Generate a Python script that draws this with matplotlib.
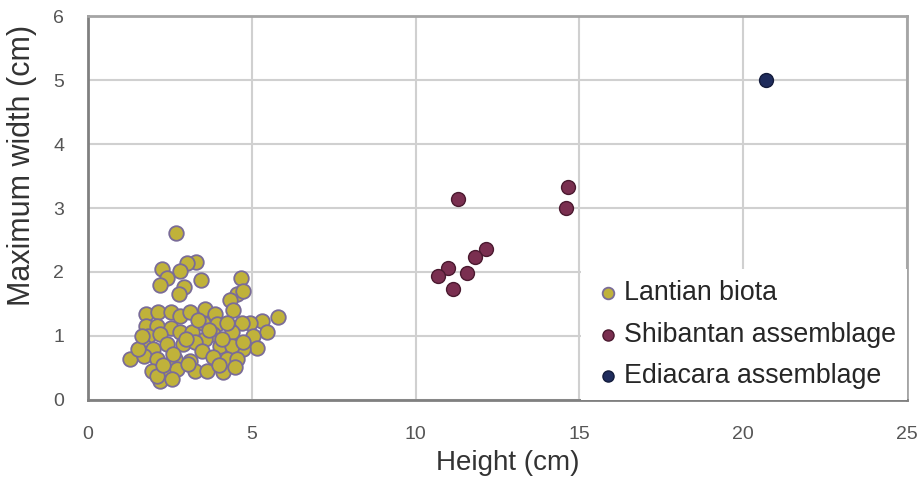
import numpy as np
import matplotlib.pyplot as plt

plt.rcParams['font.family'] = ['Liberation Sans', 'DejaVu Sans']

# Lantian biota (height, max width), cm
lantian_h = [2.70, 3.30, 3.03, 2.27, 2.82, 2.42, 3.45, 2.19, 2.92, 2.79,
             4.66, 4.55, 4.73, 4.33, 4.42, 5.80, 5.30, 5.48, 4.94, 4.70,
             5.03, 5.15, 4.73, 4.39, 1.27, 1.76, 2.15, 2.52, 2.82, 3.12,
             3.58, 3.88, 3.52, 3.94, 4.24, 1.76, 2.12, 2.52, 2.82, 3.18,
             1.82, 2.21, 3.82, 3.58, 1.70, 2.00, 2.42, 2.91, 3.27, 4.03,
             4.39, 4.73, 1.70, 2.12, 2.67, 3.12, 3.48, 3.82, 4.24, 4.55,
             1.97, 2.36, 2.73, 3.27, 3.64, 4.12, 4.48, 2.21, 2.58, 2.12,
             3.06, 1.52, 1.64, 2.30, 3.00, 3.35, 4.00, 2.60, 3.70, 4.10]
lantian_w = [2.61, 2.15, 2.14, 2.04, 2.02, 1.91, 1.88, 1.79, 1.77, 1.65,
             1.90, 1.65, 1.70, 1.57, 1.40, 1.29, 1.23, 1.06, 1.21, 1.20,
             1.00, 0.82, 0.79, 1.06, 0.64, 1.34, 1.38, 1.37, 1.31, 1.37,
             1.42, 1.34, 1.21, 1.18, 1.21, 1.15, 1.15, 1.13, 1.07, 1.06,
             1.00, 1.03, 1.03, 0.95, 0.84, 0.79, 0.87, 0.87, 0.90, 0.84,
             0.84, 0.90, 0.68, 0.64, 0.64, 0.61, 0.76, 0.67, 0.64, 0.64,
             0.45, 0.44, 0.48, 0.45, 0.45, 0.44, 0.51, 0.30, 0.33, 0.37,
             0.56, 0.79, 1.00, 0.55, 0.95, 1.25, 0.55, 0.72, 1.10, 0.95]

# Shibantan assemblage
shib_h = [11.3, 14.64, 14.58, 12.15, 11.8, 11.0, 10.7, 11.58, 11.15]
shib_w = [3.14, 3.33, 3.00, 2.36, 2.24, 2.07, 1.94, 1.99, 1.73]

# Ediacara assemblage
edia_h = [20.7]
edia_w = [5.0]

fig = plt.figure(figsize=(9.23, 4.78), dpi=100)
ax = fig.add_axes([0.0953, 0.1632, 0.8873, 0.8033])

ax.scatter(lantian_h, lantian_w, s=110, c='#c0b23a', edgecolors='#7a6c98',
           linewidths=1.3, label='Lantian biota', zorder=3)
ax.scatter(shib_h, shib_w, s=100, c='#7a2f50', edgecolors='#4b1a30',
           linewidths=1.0, label='Shibantan assemblage', zorder=3)
ax.scatter(edia_h, edia_w, s=100, c='#1f2c5c', edgecolors='#141c3c',
           linewidths=1.0, label='Ediacara assemblage', zorder=3)

ax.set_xlim(0, 25)
ax.set_ylim(0, 6)
ax.set_xticks(np.arange(0, 26, 5))
ax.set_yticks(np.arange(0, 7, 1))
ax.grid(True, color='#d0d0d0', linewidth=1.5)
ax.set_axisbelow(True)
ax.tick_params(length=0, labelsize=14, colors='#555555')
ax.tick_params(axis='x', pad=19)
ax.tick_params(axis='y', pad=17)

for side in ['left', 'bottom']:
    ax.spines[side].set_color('#808080')
    ax.spines[side].set_linewidth(2)
for side in ['top', 'right']:
    ax.spines[side].set_color('#a5a5a5')
    ax.spines[side].set_linewidth(2)

ax.set_xlabel('Height (cm)', fontsize=20, color='#333333', va='center')
ax.xaxis.set_label_coords(0.512, -0.164)
ax.set_ylabel('Maximum width (cm)', fontsize=22, color='#333333', va='center')
ax.yaxis.set_label_coords(-0.0806, 0.612)

leg = ax.legend(loc='lower right', bbox_to_anchor=(1.0, 0.0), fontsize=19.3,
                frameon=True, fancybox=False, handletextpad=0.0,
                handlelength=1.2, borderpad=0.4, labelspacing=0.58,
                borderaxespad=0.0, markerscale=0.8)
leg.get_frame().set_edgecolor('none')
leg.get_frame().set_facecolor('white')
leg.get_frame().set_alpha(1.0)
for t in leg.get_texts():
    t.set_color('#262626')

fig.savefig('out.png', dpi=100)
